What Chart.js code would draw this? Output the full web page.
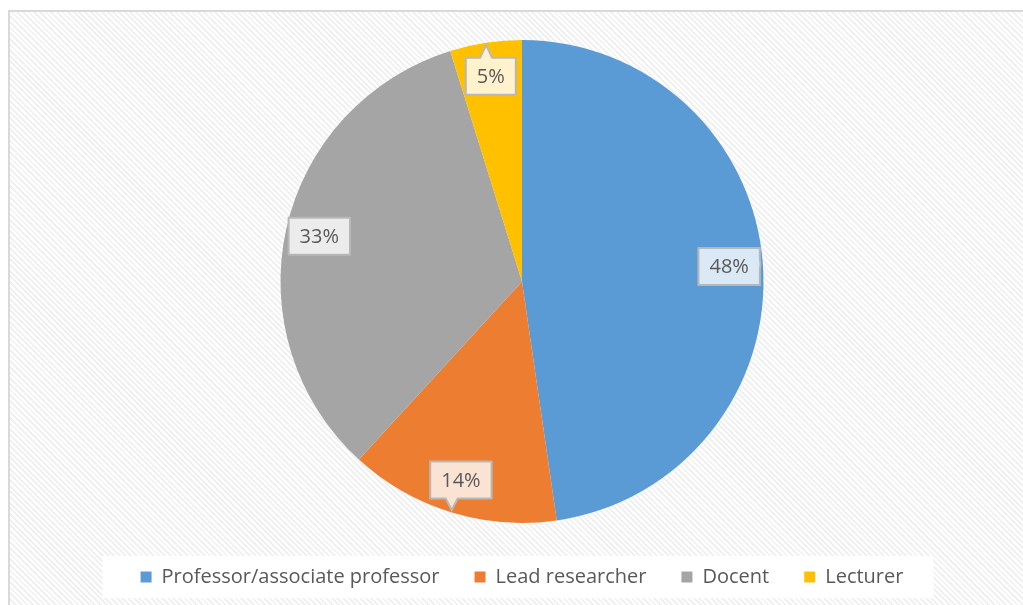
<!DOCTYPE html>
<html lang="en">
<head>
    <meta charset="UTF-8">
    <title>Staff by position</title>
    <script src="https://cdn.jsdelivr.net/npm/chart.js"></script>
    <style>
        body {
            margin: 0;
            background: #ffffff;
            overflow: hidden;
            font-family: "Open Sans", sans-serif;
        }

        .panel {
            position: absolute;
            left: 8px;
            top: 10px;
            width: 1030px;
            height: 610px;
            box-sizing: border-box;
            border-top: 2px solid #d9d9d9;
            border-left: 2px solid #d9d9d9;
            background: repeating-linear-gradient(45deg, #ffffff 0px, #ffffff 2px, #f1f1f1 2px, #f1f1f1 4px);
        }

        .panel canvas {
            position: absolute;
            left: 0;
            top: 0;
        }
    </style>
</head>
<body>
    <div class="panel">
        <canvas id="pieChart" width="1013" height="593"></canvas>
    </div>

    <script>
        const categories = ['Professor/associate professor', 'Lead researcher', 'Docent', 'Lecturer'];
        const shares = [47.7, 14.1, 33.4, 4.8];
        const sliceColors = ['#5b9bd5', '#ed7d31', '#a5a5a5', '#ffc000'];
        const labelFills = ['#dbe8f5', '#fbe3d4', '#ececec', '#fff2cc'];

        // white strip behind the legend
        const legendBackdrop = {
            id: 'legendBackdrop',
            beforeDraw(chart) {
                const boxes = chart.legend.legendHitBoxes;
                if (!boxes || !boxes.length) return;
                const first = boxes[0];
                const last = boxes[boxes.length - 1];
                const cy = first.top + first.height / 2;
                const ctx = chart.ctx;
                ctx.save();
                ctx.fillStyle = '#ffffff';
                ctx.fillRect(first.left - 38, cy - 21, last.left + last.width - first.left + 68, 42);
                ctx.restore();
            }
        };

        // callout boxes with the percentage on each slice
        const calloutLabels = {
            id: 'calloutLabels',
            afterDatasetsDraw(chart) {
                const ctx = chart.ctx;
                const meta = chart.getDatasetMeta(0);
                const total = shares.reduce((a, b) => a + b, 0);
                ctx.save();
                ctx.font = '20px "Open Sans"';
                ctx.textAlign = 'center';
                ctx.textBaseline = 'middle';
                meta.data.forEach((arc, i) => {
                    const mid = (arc.startAngle + arc.endAngle) / 2;
                    const r = arc.outerRadius;
                    const cx = arc.x + Math.cos(mid) * r * 0.86;
                    const cy = arc.y + Math.sin(mid) * r * 0.86;
                    const tx = arc.x + Math.cos(mid) * r * 0.99;
                    const ty = arc.y + Math.sin(mid) * r * 0.99;
                    const text = Math.round(shares[i] / total * 100) + '%';
                    const w = ctx.measureText(text).width + 22;
                    const h = 37;
                    const x0 = cx - w / 2, y0 = cy - h / 2, x1 = cx + w / 2, y1 = cy + h / 2;
                    const dx = tx - cx, dy = ty - cy;
                    const base = 12;
                    const clamp = (v, lo, hi) => Math.max(lo, Math.min(hi, v));

                    ctx.beginPath();
                    if (Math.abs(dx) / (w / 2) > Math.abs(dy) / (h / 2)) {
                        const a = clamp(ty - base / 2, y0 + 3, y1 - 3 - base);
                        const b = a + base;
                        if (dx > 0) {
                            ctx.moveTo(x0, y0); ctx.lineTo(x1, y0); ctx.lineTo(x1, a);
                            ctx.lineTo(tx, ty); ctx.lineTo(x1, b); ctx.lineTo(x1, y1); ctx.lineTo(x0, y1);
                        } else {
                            ctx.moveTo(x0, y0); ctx.lineTo(x1, y0); ctx.lineTo(x1, y1); ctx.lineTo(x0, y1);
                            ctx.lineTo(x0, b); ctx.lineTo(tx, ty); ctx.lineTo(x0, a);
                        }
                    } else {
                        const a = clamp(tx - base / 2, x0 + 3, x1 - 3 - base);
                        const b = a + base;
                        if (dy < 0) {
                            ctx.moveTo(x0, y0); ctx.lineTo(a, y0); ctx.lineTo(tx, ty); ctx.lineTo(b, y0);
                            ctx.lineTo(x1, y0); ctx.lineTo(x1, y1); ctx.lineTo(x0, y1);
                        } else {
                            ctx.moveTo(x0, y0); ctx.lineTo(x1, y0); ctx.lineTo(x1, y1); ctx.lineTo(b, y1);
                            ctx.lineTo(tx, ty); ctx.lineTo(a, y1); ctx.lineTo(x0, y1);
                        }
                    }
                    ctx.closePath();
                    ctx.fillStyle = labelFills[i];
                    ctx.fill();
                    ctx.lineWidth = 2;
                    ctx.strokeStyle = '#b8b8b8';
                    ctx.stroke();

                    ctx.fillStyle = '#595959';
                    ctx.fillText(text, cx, cy + 1);
                });
                ctx.restore();
            }
        };

        new Chart(document.getElementById('pieChart'), {
            type: 'pie',
            data: {
                labels: categories,
                datasets: [{
                    data: shares,
                    backgroundColor: sliceColors,
                    borderWidth: 0
                }]
            },
            options: {
                responsive: false,
                animation: false,
                layout: {
                    padding: { left: 11, right: 0, top: 28, bottom: 8 }
                },
                plugins: {
                    tooltip: { enabled: false },
                    legend: {
                        position: 'bottom',
                        title: {
                            display: true,
                            text: '',
                            font: { size: 1, lineHeight: 1 },
                            padding: { top: 4, bottom: 4 }
                        },
                        labels: {
                            boxWidth: 11,
                            boxHeight: 11,
                            padding: 35,
                            color: '#595959',
                            font: { family: 'Open Sans', size: 20 }
                        }
                    }
                }
            },
            plugins: [legendBackdrop, calloutLabels]
        });
    </script>
</body>
</html>
